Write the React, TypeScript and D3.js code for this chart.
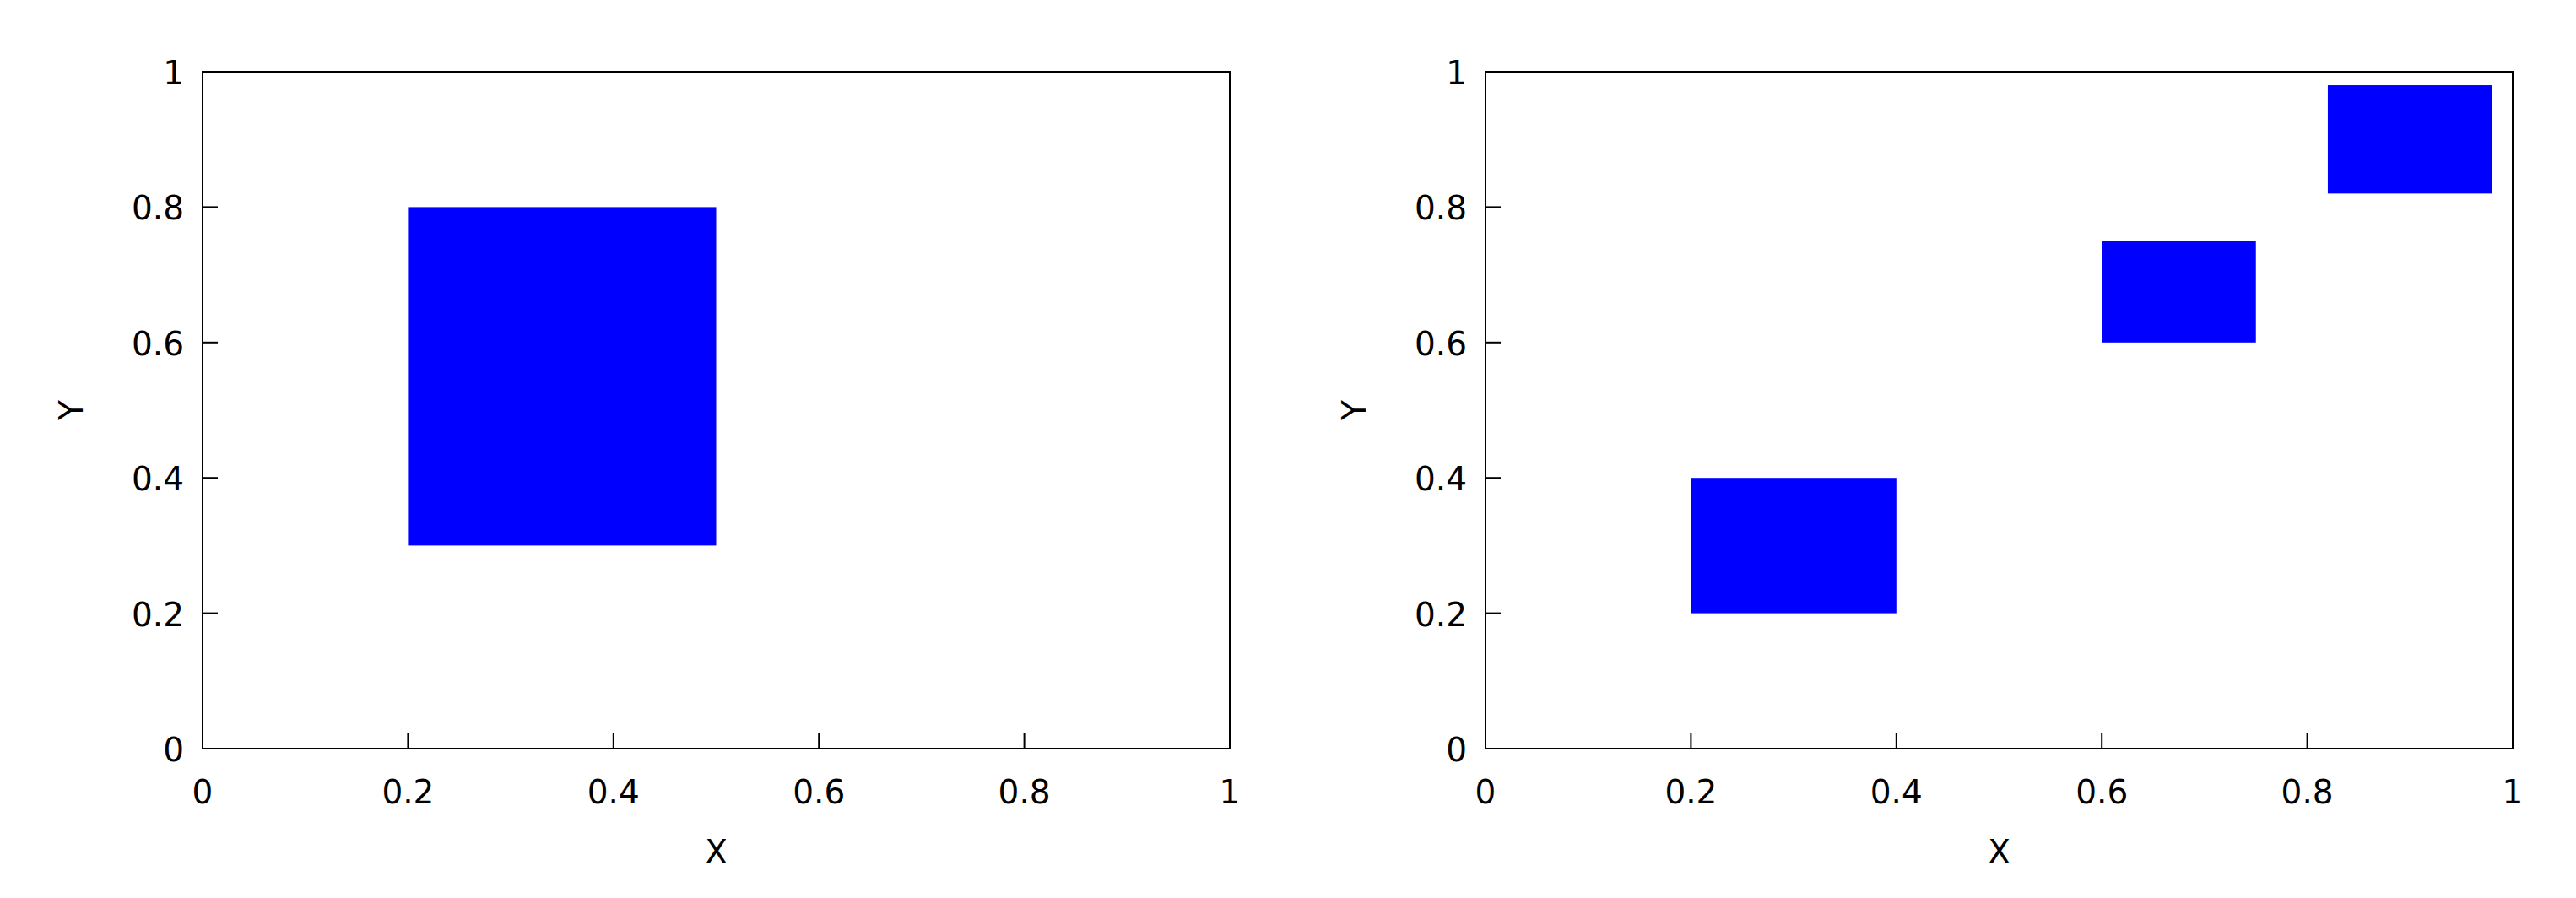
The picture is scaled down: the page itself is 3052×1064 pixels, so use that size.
import React from "react";
import * as d3 from "d3";

const tickValues = [0, 0.2, 0.4, 0.6, 0.8, 1];
const tickLabels = ["0", "0.2", "0.4", "0.6", "0.8", "1"];

const leftX0 = [0.2];
const leftX1 = [0.5];
const leftY0 = [0.3];
const leftY1 = [0.8];

const rightX0 = [0.2, 0.6, 0.82];
const rightX1 = [0.4, 0.75, 0.98];
const rightY0 = [0.2, 0.6, 0.82];
const rightY1 = [0.4, 0.75, 0.98];

const xLabel = "X";
const yLabel = "Y";

const FONT = "'DejaVu Sans', sans-serif";
const FS = 39;
const TICK = 18;

type PanelProps = {
  left: number;
  right: number;
  x0: number[];
  x1: number[];
  y0: number[];
  y1: number[];
};

function Panel({ left, right, x0, x1, y0, y1 }: PanelProps) {
  const top = 85;
  const bottom = 887;
  const x = d3.scaleLinear().domain([0, 1]).range([left, right]);
  const y = d3.scaleLinear().domain([0, 1]).range([bottom, top]);
  return (
    <g>
      {x0.map((v, i) => (
        <rect
          key={i}
          x={x(v)}
          y={y(y1[i])}
          width={x(x1[i]) - x(v)}
          height={y(y0[i]) - y(y1[i])}
          fill="#0000ff"
        />
      ))}
      <rect
        x={left}
        y={top}
        width={right - left}
        height={bottom - top}
        fill="none"
        stroke="#000"
        strokeWidth={2}
      />
      {tickValues.map((t, i) => (
        <g key={"x" + i}>
          <line x1={x(t)} x2={x(t)} y1={bottom} y2={bottom - TICK} stroke="#000" strokeWidth={2} />
          <text
            x={x(t)}
            y={952}
            textAnchor="middle"
            fontFamily={FONT}
            fontSize={FS}
            fill="#000"
          >
            {tickLabels[i]}
          </text>
        </g>
      ))}
      {tickValues.map((t, i) => (
        <g key={"y" + i}>
          <line x1={left} x2={left + TICK} y1={y(t)} y2={y(t)} stroke="#000" strokeWidth={2} />
          <text
            x={left - 22}
            y={y(t) + 15}
            textAnchor="end"
            fontFamily={FONT}
            fontSize={FS}
            fill="#000"
          >
            {tickLabels[i]}
          </text>
        </g>
      ))}
      <text
        x={(left + right) / 2}
        y={1023}
        textAnchor="middle"
        fontFamily={FONT}
        fontSize={FS}
        fill="#000"
      >
        {xLabel}
      </text>
      <text
        transform={`translate(${left - 142},${(top + bottom) / 2}) rotate(-90)`}
        textAnchor="middle"
        fontFamily={FONT}
        fontSize={FS}
        fill="#000"
      >
        {yLabel}
      </text>
    </g>
  );
}

export default function App() {
  return (
    <svg
      width={3052}
      height={1064}
      style={{ position: "absolute", left: 0, top: 0, background: "#fff" }}
    >
      <rect x={0} y={0} width={3052} height={1064} fill="#fff" />
      <Panel left={240} right={1457} x0={leftX0} x1={leftX1} y0={leftY0} y1={leftY1} />
      <Panel left={1760} right={2977} x0={rightX0} x1={rightX1} y0={rightY0} y1={rightY1} />
    </svg>
  );
}
